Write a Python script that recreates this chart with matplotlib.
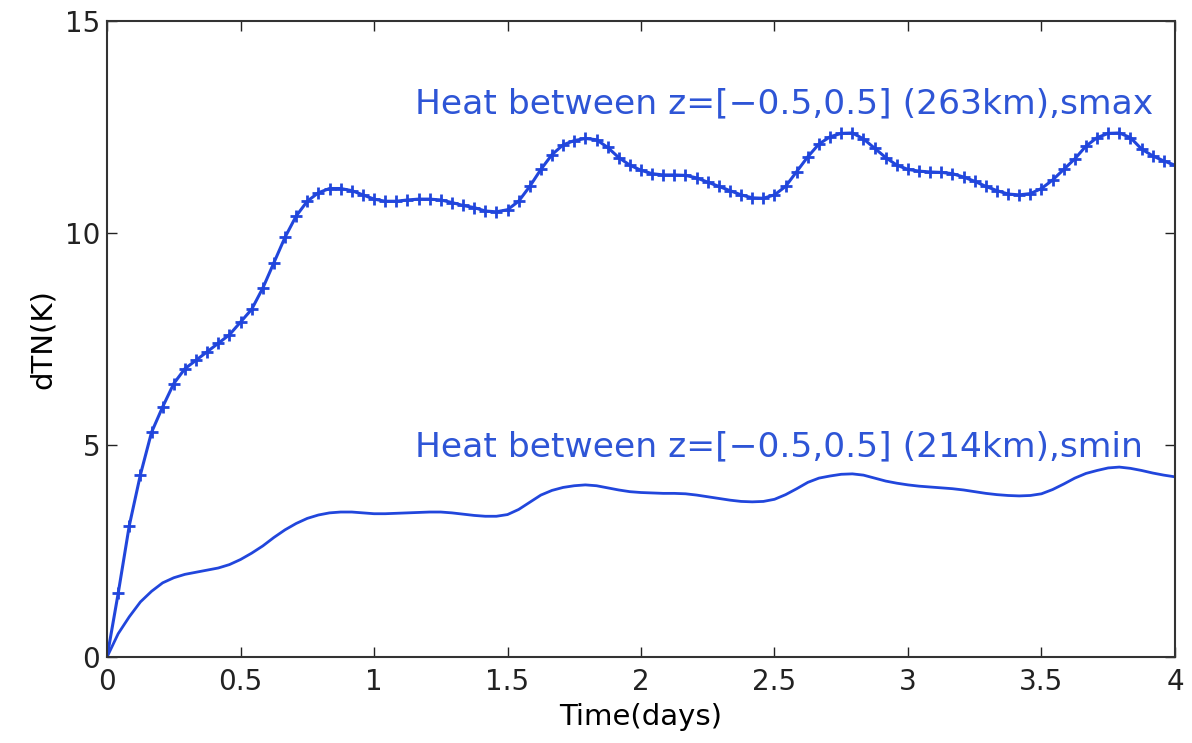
import numpy as np
import matplotlib.pyplot as plt

# time in days, hourly samples
time_days = np.arange(97) / 24.0

# heating at smax (263 km)
dtn_smax = [
    0.0, 1.5, 3.1, 4.3, 5.3, 5.9, 6.45, 6.8, 7.0, 7.2, 7.4, 7.6,
    7.9, 8.2, 8.7, 9.3, 9.9, 10.4, 10.75, 10.95, 11.05, 11.05, 11.0, 10.9,
    10.8, 10.75, 10.75, 10.78, 10.8, 10.8, 10.78, 10.72, 10.65, 10.6, 10.52, 10.5,
    10.55, 10.75, 11.1, 11.5, 11.85, 12.08, 12.18, 12.23, 12.2, 12.02, 11.78, 11.6,
    11.48, 11.4, 11.37, 11.37, 11.36, 11.3, 11.2, 11.1, 11.0, 10.9, 10.83, 10.82,
    10.9, 11.1, 11.45, 11.8, 12.1, 12.27, 12.35, 12.36, 12.22, 12.0, 11.78, 11.6,
    11.5, 11.46, 11.44, 11.43, 11.4, 11.32, 11.22, 11.1, 11.0, 10.92, 10.9, 10.93,
    11.05, 11.25, 11.5, 11.75, 12.05, 12.25, 12.35, 12.36, 12.25, 11.98, 11.82, 11.7,
    11.6,
]

# heating at smin (214 km)
dtn_smin = [
    0.0, 0.55, 0.95, 1.3, 1.55, 1.75, 1.87, 1.95, 2.0, 2.05, 2.1, 2.18,
    2.3, 2.45, 2.62, 2.82, 3.0, 3.15, 3.27, 3.35, 3.4, 3.42, 3.42, 3.4,
    3.38, 3.38, 3.39, 3.4, 3.41, 3.42, 3.42, 3.4, 3.37, 3.34, 3.32, 3.32,
    3.36, 3.48, 3.65, 3.82, 3.93, 4.0, 4.04, 4.06, 4.04, 3.99, 3.94, 3.9,
    3.88, 3.87, 3.86, 3.86, 3.85, 3.82, 3.78, 3.74, 3.7, 3.67, 3.66, 3.67,
    3.72, 3.83, 3.97, 4.12, 4.22, 4.27, 4.31, 4.32, 4.29, 4.22, 4.15, 4.1,
    4.06, 4.03, 4.01, 3.99, 3.97, 3.94, 3.9, 3.86, 3.83, 3.81, 3.8, 3.81,
    3.85, 3.95, 4.08, 4.22, 4.33, 4.4, 4.46, 4.48, 4.45, 4.4, 4.34, 4.29,
    4.25,
]

label_smax = "Heat between z=[\u22120.5,0.5] (263km),smax"
label_smin = "Heat between z=[\u22120.5,0.5] (214km),smin"

plt.rcParams['font.family'] = ['DejaVu Sans']

fig = plt.figure(figsize=(11.92, 7.43), dpi=100)
ax = fig.add_axes([0.0898, 0.1157, 0.8959, 0.856])

ax.plot(time_days, dtn_smax, color='#2146dc', lw=2.2, marker='+', ms=9, mew=2)
ax.plot(time_days, dtn_smin, color='#2146dc', lw=2)

ax.text(1.153, 13.05, label_smax, color='#2e55d6', fontsize=24.8, va='center')
ax.text(1.153, 4.95, label_smin, color='#2e55d6', fontsize=24.8, va='center')

ax.set_xlim(0, 4)
ax.set_ylim(0, 15)
ax.set_xticks(np.arange(0, 4.01, 0.5))
ax.set_xticklabels(['0', '0.5', '1', '1.5', '2', '2.5', '3', '3.5', '4'])
ax.set_yticks([0, 5, 10, 15])
ax.tick_params(direction='in', top=True, right=True, length=7, width=1,
               labelsize=20, colors='#222222')
ax.tick_params(axis='x', pad=8)
ax.tick_params(axis='y', pad=5)
for s in ax.spines.values():
    s.set_linewidth(1.5)
    s.set_color('#333333')

ax.set_xlabel('Time(days)', fontsize=21, labelpad=5)
ax.set_ylabel('dTN(K)', fontsize=21, labelpad=6)

fig.savefig('out.png', dpi=100)
